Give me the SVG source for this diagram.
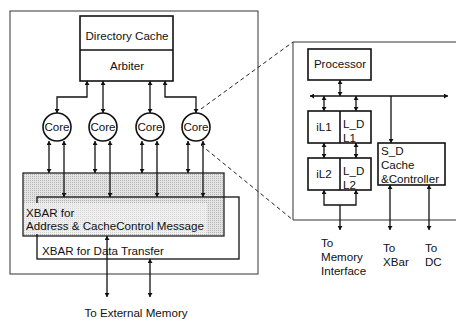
<svg xmlns="http://www.w3.org/2000/svg" width="456" height="320" viewBox="0 0 456 320">
<style>
text{font-family:"Liberation Sans",Arial,sans-serif;font-size:11.6px;fill:#111}
.c{text-anchor:middle}
.box{fill:#fff;stroke:#111;stroke-width:1.6}
.thin{fill:none;stroke:#333;stroke-width:1}
.ln{fill:none;stroke:#111;stroke-width:1.3}
.a2{marker-start:url(#ah);marker-end:url(#ah)}
.a1{marker-end:url(#ah)}
.dash{fill:none;stroke:#222;stroke-width:1;stroke-dasharray:4 3}
</style>
<defs>
<marker id="ah" viewBox="0 0 10 10" refX="10" refY="5" markerWidth="4" markerHeight="5" markerUnits="userSpaceOnUse" orient="auto-start-reverse" preserveAspectRatio="none">
<path d="M0,0 L10,5 L0,10 z" fill="#111"/>
</marker>
<pattern id="hatch" width="2" height="2" patternUnits="userSpaceOnUse">
<rect width="2" height="2" fill="#e4e4e4"/>
<rect width="1" height="1" fill="#b4b4b4"/>
</pattern>
<pattern id="hatchL" width="2" height="2" patternUnits="userSpaceOnUse">
<rect width="2" height="2" fill="#f0f0f0"/>
<rect width="1" height="1" fill="#d4d4d4"/>
</pattern>
</defs>

<g id="outer-box"><rect x="10" y="11" width="248" height="263" class="thin"/></g>

<g id="directory-cache">
<rect x="80" y="16" width="93" height="65" class="box"/>
<line x1="80" y1="50" x2="173" y2="50" stroke="#111" stroke-width="1.6"/>
<text x="127" y="40" class="c">Directory Cache</text>
<text x="127" y="70" class="c">Arbiter</text>
</g>

<g id="core1"><circle cx="57" cy="127" r="14" class="box" stroke-width="1.4"/><text x="57" y="131" class="c">Core</text></g>
<g id="core2"><circle cx="103" cy="127" r="14" class="box" stroke-width="1.4"/><text x="103" y="131" class="c">Core</text></g>
<g id="core3"><circle cx="150" cy="127" r="14" class="box" stroke-width="1.4"/><text x="150" y="131" class="c">Core</text></g>
<g id="core4"><circle cx="196" cy="127" r="14" class="box" stroke-width="1.4"/><text x="196" y="131" class="c">Core</text></g>

<g id="xbar-address">
<rect x="23" y="173" width="201" height="63" fill="url(#hatch)" stroke="#222" stroke-width="1.3"/>
</g>
<g id="xbar-data">
<rect x="37" y="197" width="202" height="62" class="ln"/>
<rect x="24" y="203" width="183" height="31" fill="url(#hatchL)"/>
<text x="26" y="217">XBAR for</text>
<text x="26" y="230">Address &amp; CacheControl Message</text>
<text x="42" y="255">XBAR for Data Transfer</text>
</g>

<g id="external-memory"><text x="136" y="317" class="c">To External Memory</text></g>

<g id="detail-panel">
<path d="M456,42 H293 V220 H456" class="thin"/>
</g>
<g id="processor"><rect x="308" y="49" width="63" height="31" class="box"/><text x="340" y="68" class="c">Processor</text></g>
<g id="l1">
<rect x="308" y="111" width="63" height="32" class="box"/>
<line x1="340" y1="111" x2="340" y2="143" stroke="#111" stroke-width="1.6"/>
<text x="324" y="131" class="c">iL1</text>
<text x="343" y="128">L_D</text>
<text x="343" y="142">L1</text>
</g>
<g id="l2">
<rect x="308" y="158" width="63" height="32" class="box"/>
<line x1="340" y1="158" x2="340" y2="190" stroke="#111" stroke-width="1.6"/>
<text x="324" y="178" class="c">iL2</text>
<text x="343" y="175">L_D</text>
<text x="343" y="189">L2</text>
</g>
<g id="sd-cache">
<rect x="378" y="143" width="67" height="42" class="box"/>
<text x="381" y="155">S_D</text>
<text x="381" y="169">Cache</text>
<text x="381" y="183">&amp;Controller</text>
</g>
<g id="labels">
<text x="321" y="247">To</text><text x="321" y="261">Memory</text><text x="321" y="275">Interface</text>
<text x="383" y="252">To</text><text x="383" y="266">XBar</text>
<text x="425" y="252">To</text><text x="425" y="266">DC</text>
</g>

<g id="connectors">
<path d="M87,81 V97 H57 V113" class="ln a2"/>
<path d="M103,81 V113" class="ln a2"/>
<path d="M150,81 V113" class="ln a2"/>
<path d="M165,81 V97 H196 V113" class="ln a2"/>
<path d="M49,141 V173" class="ln a2"/>
<path d="M64,141 V197" class="ln a2"/>
<path d="M95,141 V173" class="ln a2"/>
<path d="M110,141 V197" class="ln a2"/>
<path d="M142,141 V173" class="ln a2"/>
<path d="M157,141 V197" class="ln a2"/>
<path d="M188,141 V173" class="ln a2"/>
<path d="M203,141 V197" class="ln a2"/>
<path d="M107,236 V297" class="ln a2" stroke-width="1"/>
<path d="M150,259 V297" class="ln a2" stroke-width="1"/>
<path d="M201,109 L293,42" class="dash"/>
<path d="M201,145 L293,220" class="dash"/>
<path d="M310,96 H448" class="ln a2"/>
<path d="M340,80 V96" class="ln a2"/>
<path d="M324,96 V111" class="ln a2"/>
<path d="M356,96 V111" class="ln a2"/>
<path d="M391,96 V143" class="ln a1"/>
<path d="M324,143 V158" class="ln a2"/>
<path d="M356,143 V158" class="ln a2"/>
<path d="M324,190 V205 H356 V190" class="ln a2"/>
<path d="M340,205 V230" class="ln a1"/>
<path d="M390,185 V230" class="ln a2"/>
<path d="M429,185 V230" class="ln a2"/>
</g>
</svg>
